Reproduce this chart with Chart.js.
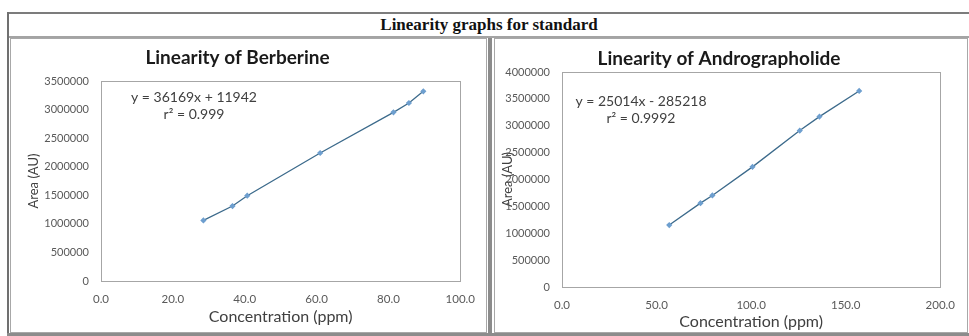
<!DOCTYPE html>
<html>
<head>
<meta charset="utf-8">
<script src="https://cdn.jsdelivr.net/npm/chart.js@4"></script>
<style>
  body { margin: 0; background: #fff; width: 969px; height: 336px; overflow: hidden; position: relative; }
  .bar { position: absolute; }
  .frame { position: absolute; border: 1px solid #a8a8a8; box-sizing: border-box; }
  #heading { position: absolute; left: 9px; top: 14px; width: 960px; height: 22px; text-align: center;
    font: bold 17px "Liberation Serif", serif; line-height: 22px; color: #111; }
  canvas { position: absolute; }
</style>
</head>
<body>
<div class="bar" style="left:7px;top:12px;width:962px;height:2px;background:#7c7c7c"></div>
<div class="bar" style="left:7px;top:12px;width:2px;height:324px;background:#707070"></div>
<div class="bar" style="left:9px;top:36px;width:960px;height:2px;background:#a4a4a4"></div>
<div id="heading">Linearity graphs for standard</div>
<div class="frame" style="left:10px;top:38px;width:477px;height:295px"></div>
<div class="bar" style="left:488px;top:38px;width:4px;height:298px;background:#8c8c8c"></div>
<div class="frame" style="left:494px;top:38px;width:474px;height:295px"></div>
<div class="bar" style="left:7px;top:333px;width:962px;height:3px;background:#8c8c8c"></div>

<canvas id="berberine" width="474" height="291" style="left:12px;top:40px"></canvas>
<canvas id="andro" width="470" height="291" style="left:496px;top:40px"></canvas>

<script>
// Berberine standard
const berberineConc = [28.5, 36.6, 40.7, 61.0, 81.4, 85.7, 89.7];
const berberineArea = [1060000, 1312000, 1493000, 2240000, 2952000, 3115000, 3319000];

// Andrographolide standard
const androConc = [56.7, 73.2, 79.5, 100.7, 125.7, 136.1, 157.1];
const androArea = [1152000, 1560000, 1703000, 2235000, 2910000, 3170000, 3647000];

const berberineLabels = ["y = 36169x + 11942", "r² = 0.999"];
const androLabels = ["y = 25014x - 285218", "r² = 0.9992"];

const FONT = "Lato";

// frame round the plot area + regression text
const plotExtras = {
  id: "plotExtras",
  afterDraw(chart, args, opts) {
    const { ctx, chartArea: a } = chart;
    ctx.save();
    ctx.strokeStyle = "#a6a6a6";
    ctx.lineWidth = 1;
    ctx.strokeRect(Math.round(a.left) + 0.5, Math.round(a.top) + 0.5,
      Math.round(a.right - a.left), Math.round(a.bottom - a.top));
    ctx.fillStyle = "#404040";
    ctx.font = "14px " + FONT;
    ctx.textAlign = "center";
    ctx.textBaseline = "middle";
    opts.lines.forEach((t, i) => {
      ctx.fillText(t, a.left + opts.x, a.top + opts.y + i * 17);
    });
    ctx.restore();
  }
};

function makeChart(id, title, xs, ys, s) {
  const pts = xs.map((x, i) => ({ x: x, y: ys[i] }));
  return new Chart(document.getElementById(id), {
    type: "scatter",
    data: {
      datasets: [{
        data: pts,
        showLine: true,
        borderColor: "#3d6b8c",
        borderWidth: 1.3,
        pointBackgroundColor: "#6e9fcf",
        pointBorderColor: "#6e9fcf",
        pointStyle: "rectRot",
        pointRadius: 2.2
      }]
    },
    options: {
      responsive: false,
      animation: false,
      layout: { padding: { right: s.padRight, top: 0, left: 0, bottom: 0 } },
      plugins: {
        legend: { display: false },
        tooltip: { enabled: false },
        title: {
          display: true,
          text: title,
          color: "#1a1a1a",
          font: { family: FONT, size: 19, weight: "bold" },
          padding: { top: s.titleTop, bottom: s.titleBottom }
        },
        plotExtras: { lines: s.lines, x: s.textX, y: s.textY }
      },
      scales: {
        x: {
          type: "linear",
          min: 0, max: s.xMax,
          ticks: { stepSize: s.xStep, color: "#595959", font: { family: FONT, size: 11.5 },
            padding: 11, callback: v => v.toFixed(1) },
          grid: { display: false, drawTicks: false },
          border: { display: false },
          title: { display: true, text: "Concentration (ppm)", color: "#404040",
            font: { family: FONT, size: 16 }, padding: { top: 0, bottom: s.xTitlePad } },
          afterFit: sc => { sc.height = s.xHeight; }
        },
        y: {
          min: 0, max: s.yMax,
          ticks: { stepSize: 500000, color: "#595959", font: { family: FONT, size: 11 },
            padding: 12, callback: v => String(v) },
          grid: { display: false, drawTicks: false },
          border: { display: false },
          title: { display: true, text: "Area (AU)", color: "#404040",
            font: { family: FONT, size: 13 }, padding: { top: s.yTitlePad, bottom: 0 } },
          afterFit: sc => { sc.width = s.yWidth; }
        }
      }
    },
    plugins: [plotExtras]
  });
}

makeChart("berberine", "Linearity of Berberine", berberineConc, berberineArea, {
  xMax: 100, xStep: 20, yMax: 3500000,
  padRight: 23, yWidth: 89, xHeight: 50,
  titleTop: 6.6, titleBottom: 11.6,
  xTitlePad: 4.4, yTitlePad: 14,
  lines: berberineLabels, textX: 93, textY: 16
});

makeChart("andro", "Linearity of Andrographolide", androConc, androArea, {
  xMax: 200, xStep: 50, yMax: 4000000,
  padRight: 24, yWidth: 66, xHeight: 44,
  titleTop: 7.6, titleBottom: 1.6,
  xTitlePad: 0, yTitlePad: 4,
  lines: androLabels, textX: 79, textY: 29
});
</script>
</body>
</html>
